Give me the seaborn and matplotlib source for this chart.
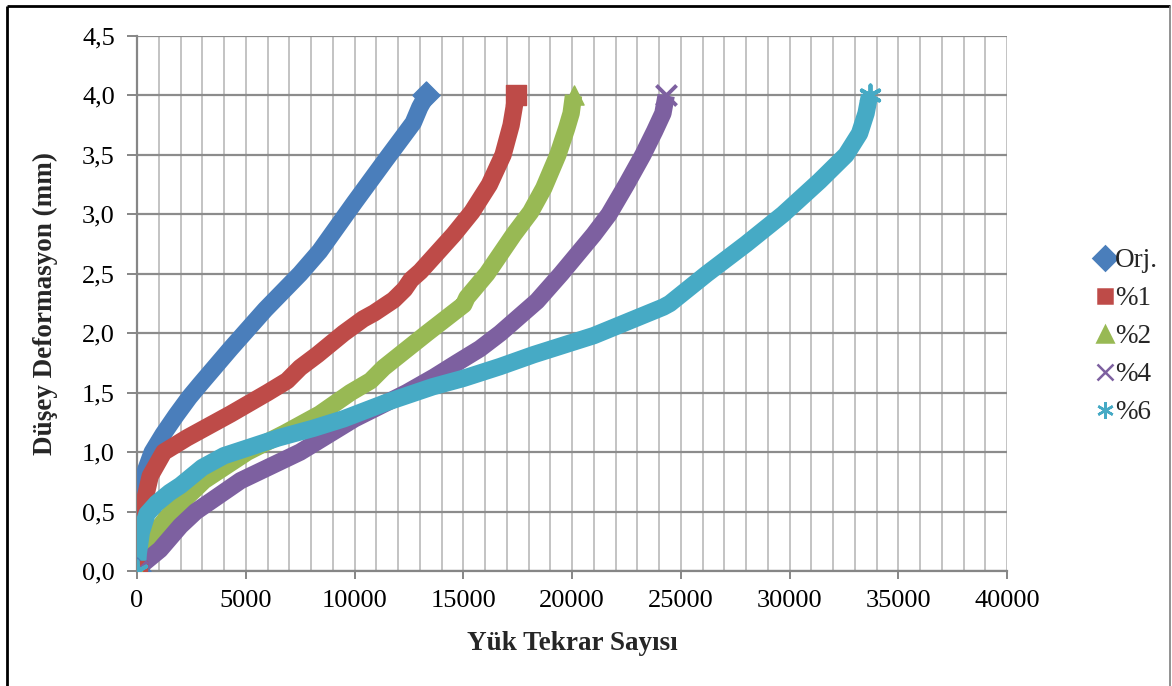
import matplotlib
matplotlib.use("Agg")
import matplotlib.pyplot as plt
import numpy as np
import pandas as pd
import seaborn as sns
from matplotlib.lines import Line2D
from matplotlib.ticker import MultipleLocator, FuncFormatter

# Deformation curves: vertical deformation (mm) vs number of load repetitions
series_names = ["Orj.", "%1", "%2", "%4", "%6"]
series_colors = ["#4A7EBB", "#BE4B48", "#98B954", "#7D60A0", "#46AAC5"]
series_markers = ["D", "s", "^", "x", (6, 2, 0)]

orj_n = [0, 30, 80, 180, 400, 700, 1200, 1800, 2400, 2900, 3600, 4300, 5900,
         7500, 8400, 10000, 11400, 12700, 13000, 13300]
orj_d = [0.0, 0.2, 0.45, 0.65, 0.85, 1.0, 1.15, 1.31, 1.46, 1.57, 1.72, 1.87, 2.2,
         2.5, 2.69, 3.1, 3.45, 3.77, 3.9, 4.0]

p1_n = [0, 40, 100, 230, 610, 1230, 2300, 3300, 4300, 6000, 6900, 7500, 8300,
        9500, 10400, 10900, 11800, 12300, 12600, 13030, 14560, 15400, 16200,
        16830, 17200, 17430]
p1_d = [0.0, 0.14, 0.25, 0.5, 0.8, 1.0, 1.12, 1.22, 1.32, 1.5, 1.6, 1.71, 1.82,
        2.0, 2.12, 2.17, 2.28, 2.37, 2.45, 2.52, 2.83, 3.02, 3.25, 3.5, 3.75, 4.0]

p2_n = [0, 300, 1500, 3080, 5070, 6800, 8400, 9810, 10740, 11340, 13330, 15020,
        15170, 16090, 17320, 18100, 18700, 19350, 19750, 19960, 20070]
p2_d = [0.0, 0.2, 0.48, 0.76, 1.0, 1.16, 1.32, 1.5, 1.6, 1.71, 2.0, 2.24, 2.3,
        2.5, 2.83, 3.02, 3.22, 3.5, 3.72, 3.85, 4.0]

p4_n = [0, 200, 1060, 2000, 2700, 4760, 7500, 10000, 12400, 13650, 14700, 15770,
        16700, 18390, 19500, 21000, 21700, 22500, 23260, 23800, 24180, 24330]
p4_d = [0.0, 0.05, 0.18, 0.38, 0.5, 0.76, 1.0, 1.28, 1.5, 1.63, 1.75, 1.87, 2.0,
        2.27, 2.5, 2.83, 3.0, 3.25, 3.5, 3.7, 3.85, 4.0]

p6_n = [0, 60, 200, 460, 900, 1500, 2000, 3000, 4000, 5000, 6500, 8100, 9500,
        11500, 13600, 15000, 16700, 18240, 21000, 24200, 24500, 26200, 28000,
        29700, 31380, 32600, 33220, 33520, 33680]
p6_d = [0.0, 0.15, 0.33, 0.48, 0.57, 0.66, 0.72, 0.87, 0.97, 1.03, 1.12, 1.2,
        1.28, 1.42, 1.55, 1.62, 1.72, 1.82, 1.98, 2.22, 2.25, 2.5, 2.75, 3.0,
        3.28, 3.5, 3.68, 3.85, 4.0]

all_n = [orj_n, p1_n, p2_n, p4_n, p6_n]
all_d = [orj_d, p1_d, p2_d, p4_d, p6_d]

XCOL = "Yük Tekrar Sayısı"
YCOL = "Düşey Deformasyon (mm)"

frames = []
for name, n, d in zip(series_names, all_n, all_d):
    frames.append(pd.DataFrame({XCOL: n, YCOL: d, "Seri": name}))
df = pd.concat(frames, ignore_index=True)

sns.set_theme(style="white")
plt.rcParams["font.family"] = ["Liberation Serif", "DejaVu Serif"]
plt.rcParams["lines.solid_capstyle"] = "butt"
plt.rcParams["lines.solid_joinstyle"] = "round"

W, H = 1172, 686
fig = plt.figure(figsize=(W / 100, H / 100), dpi=100)
fig.patch.set_facecolor("white")
ax = fig.add_axes([137 / W, 1 - 571 / H, 870 / W, 535 / H])

palette = dict(zip(series_names, series_colors))
sns.lineplot(data=df, x=XCOL, y=YCOL, hue="Seri", palette=palette,
             linewidth=12.5, sort=False, estimator=None, legend=False, ax=ax,
             zorder=3)

# Markers at the first and last reading of each series
for frame, color, marker in zip(frames, series_colors, series_markers):
    tips = frame.iloc[[0, -1]]
    filled = marker in ("D", "s", "^")
    sns.scatterplot(data=tips, x=XCOL, y=YCOL, color=color, marker=marker,
                    s=190 if filled else 210,
                    edgecolor=color if filled else None,
                    linewidth=1.0 if filled else 2.8,
                    legend=False, ax=ax, zorder=4)

ax.set_xlim(0, 40000)
ax.set_ylim(0, 4.5)
ax.xaxis.set_major_locator(MultipleLocator(5000))
ax.xaxis.set_minor_locator(MultipleLocator(1000))
ax.yaxis.set_major_locator(MultipleLocator(0.5))
ax.xaxis.set_major_formatter(FuncFormatter(lambda v, p: f"{int(round(v))}"))
ax.yaxis.set_major_formatter(FuncFormatter(lambda v, p: f"{v:.1f}".replace(".", ",")))

ax.grid(which="minor", axis="x", color="#BEBEBE", linewidth=1.3, zorder=0)
ax.grid(which="major", axis="x", color="#BEBEBE", linewidth=1.3, zorder=0)
ax.grid(which="major", axis="y", color="#8C8C8C", linewidth=1.6, zorder=0)
ax.set_axisbelow(True)

for side in ["top", "right"]:
    ax.spines[side].set_visible(False)
for side in ["left", "bottom"]:
    ax.spines[side].set_color("#868686")
    ax.spines[side].set_linewidth(1.6)

ax.tick_params(axis="both", which="major", direction="out", colors="#868686",
               labelcolor="black", labelsize=19, width=1.4)
ax.tick_params(axis="x", which="major", length=6, pad=8, bottom=True)
ax.tick_params(axis="y", which="major", length=7, pad=9, left=True)
ax.tick_params(axis="x", which="minor", length=0)

ax.set_xlabel(XCOL, fontsize=19.5, fontweight="bold", va="center")
ax.set_ylabel(YCOL, fontsize=19.5, fontweight="bold", va="center")
ax.xaxis.set_label_coords(0.5, (571 - 643) / 535)
ax.yaxis.set_label_coords((45 - 137) / 870, 0.5)

handles = [Line2D([], [], linestyle="none", marker=m, color=c,
                  markerfacecolor=c, markeredgecolor=c,
                  markersize=12 if m != "s" else 9.5, markeredgewidth=1.8)
           for m, c in zip(series_markers, series_colors)]
fig.legend(handles, series_names, loc="center left",
           bbox_to_anchor=(1082 / W, 1 - 337 / H), frameon=False,
           fontsize=19.5, handlelength=0.7, handletextpad=0.02,
           labelspacing=0.48, borderpad=0)

# Outer chart border
fig.add_artist(Line2D([7 / W, 7 / W], [0, 1 - 6 / H], color="black", lw=2.0))
fig.add_artist(Line2D([7 / W, 1170 / W], [1 - 6 / H, 1 - 6 / H], color="black", lw=2.0))
fig.add_artist(Line2D([1170 / W, 1170 / W], [0, 1 - 6 / H], color="#7F7F7F", lw=1.2))

fig.savefig("out.png", dpi=100, facecolor="white")
